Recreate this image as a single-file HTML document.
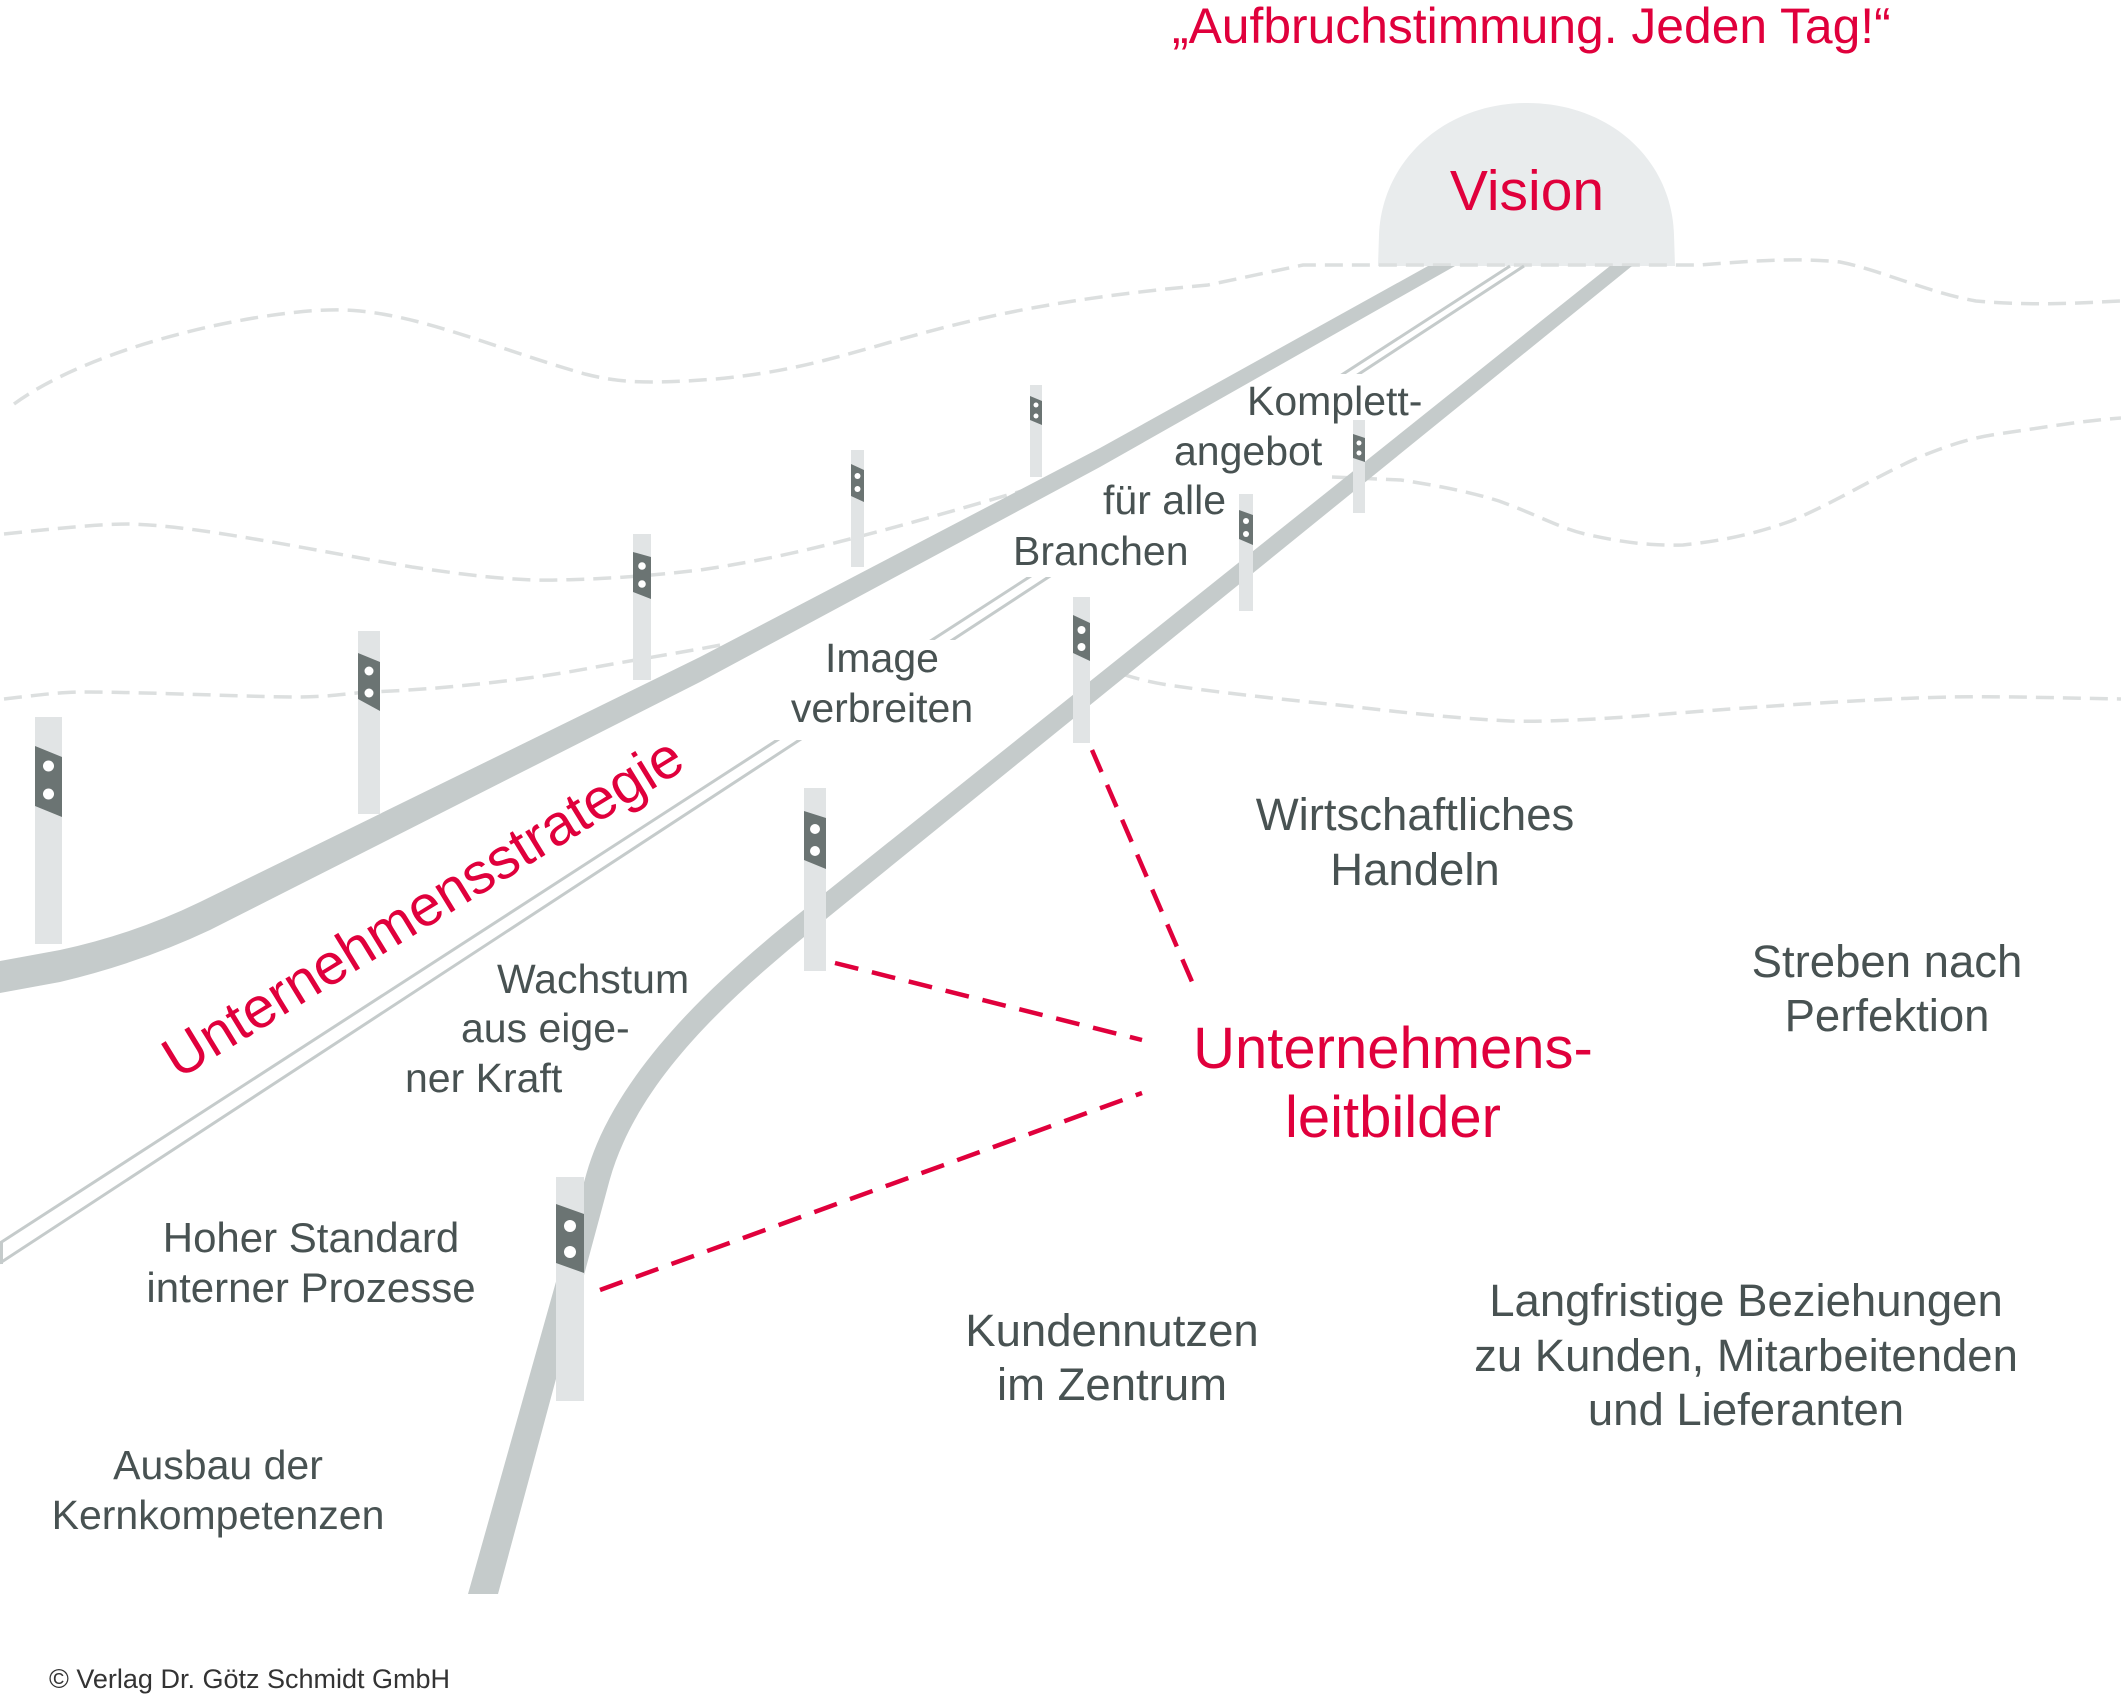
<!DOCTYPE html>
<html>
<head>
<meta charset="utf-8">
<style>
html,body{margin:0;padding:0;background:#fff;}
svg{display:block;}
</style>
</head>
<body>
<svg width="2121" height="1695" viewBox="0 0 2121 1695" xmlns="http://www.w3.org/2000/svg" font-family="'Liberation Sans', Arial, Helvetica, sans-serif">
<defs>
<clipPath id="cb">
<rect x="0" y="0" width="2121" height="374"/>
<rect x="0" y="577" width="2121" height="63"/>
<rect x="0" y="740" width="2121" height="955"/>
</clipPath>
</defs>
<rect width="2121" height="1695" fill="#fff"/>

<!-- tunnel -->
<path d="M1378,266 L1379,235 C1382,160 1445,103 1527,103 C1610,103 1672,160 1674,235 L1675,266 Z" fill="#e9eced"/>

<!-- horizon dashed lines -->
<g fill="none" stroke="#dcdfdf" stroke-width="3.5" stroke-dasharray="18 9">
<path d="M14,404 C60,370 150,335 260,317 C300,311 330,308 360,311 C430,318 500,350 585,374 C620,383 650,384 716,379 C780,373 820,362 870,348 C960,322 1040,300 1208,285 L1303,265 L1700,265 C1740,262 1790,257 1840,262 C1880,270 1930,293 1976,301 C2030,306 2080,303 2121,301"/>
<path d="M4,534 C60,528 100,524 130,524 C200,526 300,548 412,567 C480,577 520,581 558,580 C600,579 640,577 700,570 C760,561 800,552 850,539 C920,521 990,500 1060,480"/>
<path d="M1332,477 L1401,480 C1440,486 1470,492 1499,501 C1540,516 1560,528 1585,534 C1620,542 1650,546 1683,545 C1730,540 1760,532 1791,521 C1840,500 1880,474 1922,456 C1950,445 1970,438 1998,434 C2040,428 2080,421 2121,418"/>
<path d="M4,699 C30,696 60,692 81,692 C150,692 250,697 298,697 C330,697 350,693 369,692 C420,690 450,687 488,683 C540,677 570,672 596,667 C640,659 690,651 726,644"/>
<path d="M1122,674 C1140,680 1160,684 1175,686 C1230,694 1290,700 1338,705 C1400,712 1450,718 1510,721 C1580,723 1680,712 1759,707 C1830,702 1900,698 1949,697 C2000,696 2060,698 2121,699"/>
</g>

<!-- rail A -->
<path d="M0,961 L60,950 Q134,934 200,902 L700,657 L1100,448 L1428,266 L1455,266 L1100,467 L700,682 L210,930 Q140,963 60,982 L0,993 Z" fill="#c5cbcb"/>

<!-- rail C -->
<path d="M1610,266 L1632,266 L814.6,928.2 C728,999 637.5,1080.5 609.6,1180.2 L498,1594 L468,1594 L586.4,1173.8 C614.5,1073.5 714,981 801.4,911.8 Z" fill="#c5cbcb"/>

<!-- rail B (double line) -->
<g clip-path="url(#cb)" stroke="#c5cbcb" stroke-width="3" fill="none">
<line x1="1510" y1="266" x2="0" y2="1243"/>
<line x1="1524" y1="266" x2="0" y2="1263"/>
<line x1="1.5" y1="1242" x2="1.5" y2="1264"/>
</g>

<!-- posts -->
<g>
<rect x="35" y="717" width="27" height="227" fill="#e1e4e5"/>
<polygon points="35,746 62,757 62,817 35,806" fill="#6b7473"/>
<circle cx="48.5" cy="766" r="5.5" fill="#fff"/><circle cx="48.5" cy="794" r="5.5" fill="#fff"/>

<rect x="358" y="631" width="22" height="183" fill="#e1e4e5"/>
<polygon points="358,653 380,662 380,711 358,699" fill="#6b7473"/>
<circle cx="369" cy="671" r="4.5" fill="#fff"/><circle cx="369" cy="693" r="4.5" fill="#fff"/>

<rect x="633" y="534" width="18" height="146" fill="#e1e4e5"/>
<polygon points="633,552 651,557 651,599 633,592" fill="#6b7473"/>
<circle cx="642" cy="566" r="3.8" fill="#fff"/><circle cx="642" cy="584" r="3.8" fill="#fff"/>

<rect x="851" y="450" width="13" height="117" fill="#e1e4e5"/>
<polygon points="851,464 864,470 864,502 851,496" fill="#6b7473"/>
<circle cx="857.5" cy="476" r="3" fill="#fff"/><circle cx="857.5" cy="489" r="3" fill="#fff"/>

<rect x="1030" y="385" width="12" height="92" fill="#e1e4e5"/>
<polygon points="1030,396 1042,401 1042,425 1030,420" fill="#6b7473"/>
<circle cx="1036" cy="405" r="2.5" fill="#fff"/><circle cx="1036" cy="416" r="2.5" fill="#fff"/>

<rect x="1353" y="420" width="12" height="93" fill="#e1e4e5"/>
<polygon points="1353,434 1365,438 1365,462 1353,458" fill="#6b7473"/>
<circle cx="1359" cy="443" r="2.5" fill="#fff"/><circle cx="1359" cy="453" r="2.5" fill="#fff"/>

<rect x="1239" y="494" width="14" height="117" fill="#e1e4e5"/>
<polygon points="1239,510 1253,515 1253,545 1239,539" fill="#6b7473"/>
<circle cx="1246" cy="521" r="3" fill="#fff"/><circle cx="1246" cy="534" r="3" fill="#fff"/>

<rect x="1073" y="597" width="17" height="146" fill="#e1e4e5"/>
<polygon points="1073,615 1090,623 1090,661 1073,653" fill="#6b7473"/>
<circle cx="1081.5" cy="630" r="4" fill="#fff"/><circle cx="1081.5" cy="647" r="4" fill="#fff"/>

<rect x="804" y="788" width="22" height="183" fill="#e1e4e5"/>
<polygon points="804,811 826,818 826,869 804,860" fill="#6b7473"/>
<circle cx="815" cy="829" r="5" fill="#fff"/><circle cx="815" cy="851" r="5" fill="#fff"/>

<rect x="556" y="1177" width="28" height="224" fill="#e1e4e5"/>
<polygon points="556,1204 584,1214 584,1273 556,1263" fill="#6b7473"/>
<circle cx="570" cy="1226" r="6" fill="#fff"/><circle cx="570" cy="1252" r="6" fill="#fff"/>
</g>

<!-- red dashed connectors -->
<g stroke="#e0003c" stroke-width="4.5" stroke-dasharray="24 14" fill="none">
<line x1="1092" y1="750" x2="1193" y2="984"/>
<line x1="835" y1="963" x2="1142" y2="1040"/>
<line x1="600" y1="1290" x2="1142" y2="1093"/>
</g>

<!-- red texts -->
<g fill="#e0003c">
<text x="1172" y="43" font-size="49.8">„Aufbruchstimmung. Jeden Tag!“</text>
<text x="1527" y="210" font-size="57" text-anchor="middle">Vision</text>
<text x="1393" y="1068" font-size="58" text-anchor="middle">Unternehmens-</text>
<text x="1393" y="1137" font-size="58" text-anchor="middle">leitbilder</text>
<text transform="translate(178,1080) rotate(-31.5)" font-size="57.5">Unternehmensstrategie</text>
</g>

<!-- gray texts -->
<g fill="#485252">
<text x="1247" y="415" font-size="41">Komplett-</text>
<text x="1174" y="465" font-size="41">angebot</text>
<text x="1103" y="514" font-size="41">für alle</text>
<text x="1013" y="565" font-size="41">Branchen</text>

<text x="882" y="672" font-size="41" text-anchor="middle">Image</text>
<text x="882" y="722" font-size="41" text-anchor="middle">verbreiten</text>

<text x="497" y="993" font-size="41">Wachstum</text>
<text x="461" y="1042" font-size="41">aus eige-</text>
<text x="405" y="1092" font-size="41">ner Kraft</text>

<text x="311" y="1252" font-size="42" text-anchor="middle">Hoher Standard</text>
<text x="311" y="1302" font-size="42" text-anchor="middle">interner Prozesse</text>

<text x="218" y="1479" font-size="41" text-anchor="middle">Ausbau der</text>
<text x="218" y="1529" font-size="41" text-anchor="middle">Kernkompetenzen</text>

<text x="1112" y="1346" font-size="45.5" text-anchor="middle">Kundennutzen</text>
<text x="1112" y="1400" font-size="45.5" text-anchor="middle">im Zentrum</text>

<text x="1415" y="830" font-size="45.5" text-anchor="middle">Wirtschaftliches</text>
<text x="1415" y="885" font-size="45.5" text-anchor="middle">Handeln</text>

<text x="1887" y="977" font-size="45.5" text-anchor="middle">Streben nach</text>
<text x="1887" y="1031" font-size="45.5" text-anchor="middle">Perfektion</text>

<text x="1746" y="1316" font-size="45.5" text-anchor="middle">Langfristige Beziehungen</text>
<text x="1746" y="1371" font-size="45.5" text-anchor="middle">zu Kunden, Mitarbeitenden</text>
<text x="1746" y="1425" font-size="45.5" text-anchor="middle">und Lieferanten</text>
</g>

<text x="49" y="1688" font-size="27" fill="#333">© Verlag Dr. Götz Schmidt GmbH</text>
</svg>
</body>
</html>
